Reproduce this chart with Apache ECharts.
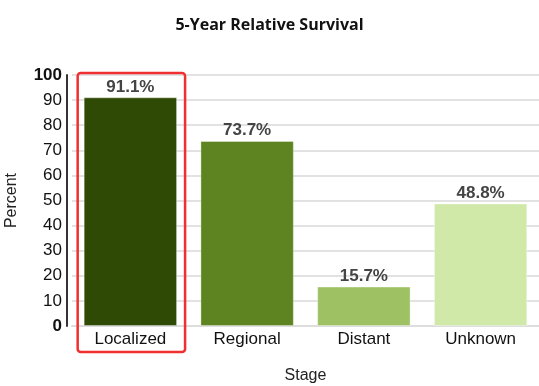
<!DOCTYPE html>
<html>
<head>
<meta charset="utf-8">
<script src="https://cdn.jsdelivr.net/npm/echarts@6/dist/echarts.min.js"></script>
<style>html,body{margin:0;padding:0;background:#fff}#c{width:539px;height:386px}</style>
</head>
<body>
<div id="c"></div>
<script>
var stages = ['Localized', 'Regional', 'Distant', 'Unknown'];
var survival = [91.1, 73.7, 15.7, 48.8];
var barColors = ['#2e4a04', '#5e8422', '#9dc163', '#d0e9a8'];
var highlighted = 'Localized';

var chart = echarts.init(document.getElementById('c'));
var font = '"Liberation Sans", Arial, sans-serif';
chart.setOption({
  animation: false,
  title: {
    text: '5-Year Relative Survival',
    left: 'center', top: 12,
    textStyle: { fontFamily: '"Open Sans", sans-serif', fontWeight: 'bold', fontSize: 16, color: '#111' }
  },
  grid: { left: 72, right: 0, top: 75, bottom: 60, containLabel: false, outerBoundsMode: 'none' },
  xAxis: {
    type: 'category', data: stages,
    name: 'Stage', nameLocation: 'middle', nameGap: 42,
    nameTextStyle: { fontFamily: font, fontSize: 16, color: '#222' },
    axisLine: { lineStyle: { color: '#dddddd', width: 2 } },
    axisTick: { show: false },
    axisLabel: { fontFamily: font, fontSize: 17, color: '#111', margin: 5 }
  },
  yAxis: {
    type: 'value', min: 0, max: 100, interval: 10, offset: 5,
    name: 'Percent', nameLocation: 'middle', nameGap: 47, nameRotate: 90,
    nameTextStyle: { fontFamily: font, fontSize: 16, color: '#222' },
    axisLine: { show: true, lineStyle: { color: '#333', width: 2 } },
    axisTick: { show: false },
    splitLine: { lineStyle: { color: '#e2e2e2', width: 2 } },
    axisLabel: {
      fontFamily: font, fontSize: 17, color: '#111', margin: 5,
      formatter: function (v) { return (v === 0 || v === 100) ? '{b|' + v + '}' : v; },
      rich: { b: { fontFamily: font, fontSize: 17, fontWeight: 'bold', color: '#111' } }
    }
  },
  series: [{
    type: 'bar',
    barCategoryGap: '20%',
    data: survival.map(function (v, i) {
      return { value: v, itemStyle: { color: barColors[i] } };
    }),
    itemStyle: { borderColor: 'rgba(255,255,255,0.35)', borderWidth: 1 },
    label: {
      show: true, position: 'top', distance: 2,
      formatter: function (p) { return p.value.toFixed(1) + '%'; },
      fontFamily: font, fontSize: 17, fontWeight: 'bold', color: '#444'
    }
  }]
});

// highlight box around the selected category, computed from the axes
var cx = chart.convertToPixel({ xAxisIndex: 0 }, highlighted);
var band = chart.convertToPixel({ xAxisIndex: 0 }, stages[1]) - cx;
var yTop = chart.convertToPixel({ yAxisIndex: 0 }, 100);
var yBot = chart.convertToPixel({ yAxisIndex: 0 }, 0);
var w = band * 0.92;
chart.setOption({
  graphic: [{
    type: 'rect', z: 100,
    shape: { x: cx - w / 2 + 1, y: yTop - 2, width: w, height: (yBot - yTop) + 28, r: 3 },
    style: { fill: 'none', stroke: '#f03030', lineWidth: 2.5 }
  }]
});
</script>
</body>
</html>
